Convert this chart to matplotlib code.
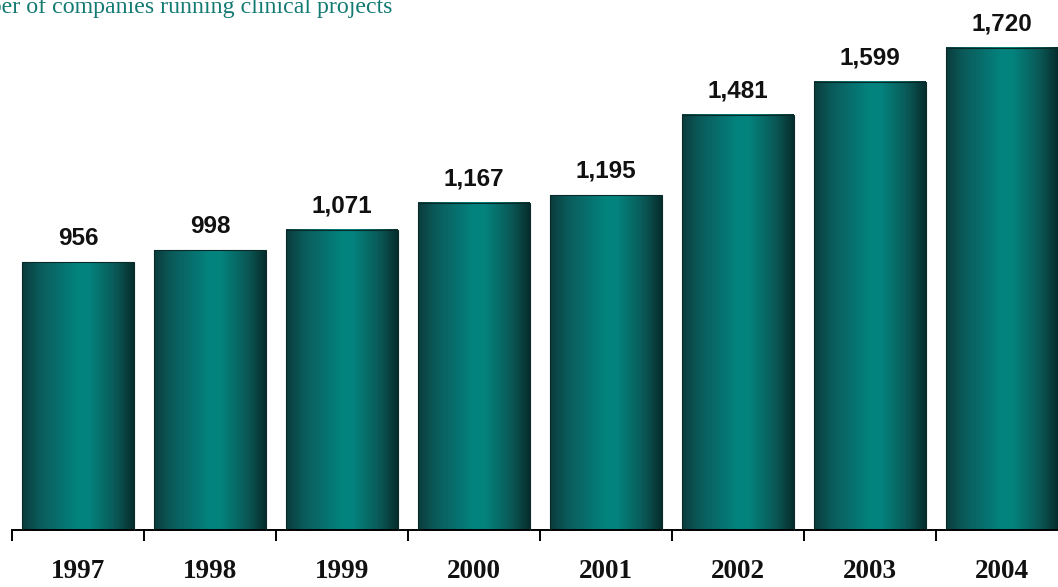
import matplotlib
matplotlib.use("Agg")
import numpy as np
import matplotlib.pyplot as plt
from matplotlib.colors import LinearSegmentedColormap

W, H, DPI = 1058, 587, 100

years = ["1997", "1998", "1999", "2000", "2001", "2002", "2003", "2004"]
companies = [956, 998, 1071, 1167, 1195, 1481, 1599, 1720]
title = "Number of companies running clinical projects"

# horizontal shading across each bar: dark edges, bright teal just right of centre
shade = LinearSegmentedColormap.from_list(
    "bar_shade",
    [(0.0, "#0a3b3c"), (0.15, "#0b5a5a"), (0.5, "#03847f"),
     (0.6, "#04837e"), (0.85, "#0a5654"), (1.0, "#062d2d")])
grad = np.linspace(0, 1, 256).reshape(1, -1)

fig = plt.figure(figsize=(W / DPI, H / DPI), dpi=DPI)
base_y = 530
ax = fig.add_axes([12 / W, 1 - base_y / H, 1056 / W, base_y / H])

x = np.arange(len(years))
bars = ax.bar(x, companies, width=0.845, color="none",
              edgecolor="#0a2a2a", linewidth=0.8, zorder=3)
for b, v in zip(bars, companies):
    x0, w, h = b.get_x(), b.get_width(), b.get_height()
    ax.imshow(grad, cmap=shade, aspect="auto", extent=[x0, x0 + w, 0, h],
              zorder=2, interpolation="bicubic")
    ax.annotate(f"{v:,}", (x0 + w / 2, h), xytext=(0, 9),
                textcoords="offset points", ha="center", va="bottom",
                fontsize=17.5, fontweight="bold", family="Liberation Sans",
                color="#111111")

ax.set_xlim(-0.5, len(years) - 0.5)
ax.set_ylim(0, 1891)
for s in ("left", "right", "top"):
    ax.spines[s].set_visible(False)
ax.spines["bottom"].set_linewidth(1.4)
ax.set_yticks([])
ax.set_xticks(np.arange(len(years) + 1) - 0.5)
ax.set_xticklabels([])
ax.set_xticks(x, minor=True)
ax.set_xticklabels(years, minor=True, fontsize=19.5, fontweight="bold",
                   family="Liberation Serif", color="#111111")
ax.tick_params(axis="x", which="major", length=8, width=1.4, direction="out")
ax.tick_params(axis="x", which="minor", length=0, pad=21)

fig.text(392 / W, 1 - 13 / H, title, ha="right", va="baseline",
         fontsize=17.2, family="Liberation Serif", color="#137a72")

fig.savefig("out.png", dpi=DPI)
